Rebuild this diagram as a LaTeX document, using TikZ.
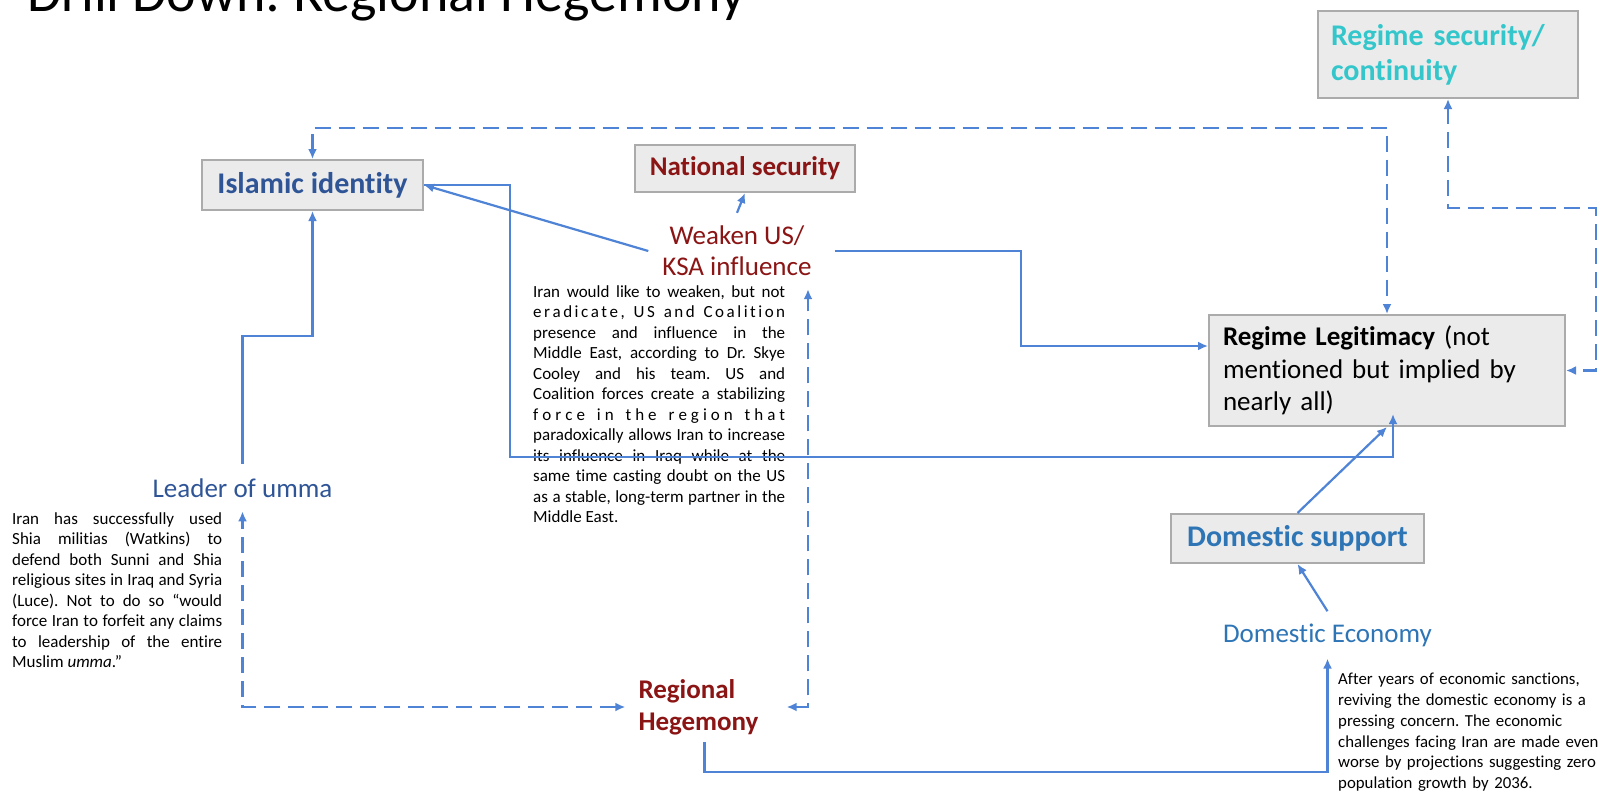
\documentclass[tikz,border=0pt]{standalone}
\usepackage{fontspec}
\setmainfont{Carlito}[Ligatures={NoCommon, NoContextual}, RawFeature={-liga;-clig;-calt}]
\usetikzlibrary{positioning, calc, arrows.meta}
\definecolor{xred}{HTML}{8B1414}
\definecolor{xblue}{HTML}{2F5597}
\definecolor{xsteel}{HTML}{2E75B6}
\definecolor{xteal}{HTML}{33C7CC}
\definecolor{xline}{HTML}{4F83D6}
\definecolor{xfill}{HTML}{EBEBEB}
\definecolor{xgray}{HTML}{ABABAB}
\tikzset{
	arrow/.style={line width=2.2pt, xline, -{Latex[length=10pt, width=9pt]}},
	dasharrow/.style={arrow, {Latex[length=10pt, width=9pt]}-{Latex[length=10pt, width=9pt]}, dash pattern=on 16pt off 8pt},
	box/.style={draw=xgray, fill=xfill, line width=2pt},
	big/.style={font=\fontsize{27}{32.5}\selectfont},
	bigbold/.style={font=\fontsize{30}{35}\selectfont\bfseries},
	para/.style={font=\fontsize{17}{20.5}\selectfont, inner sep=0pt, anchor=north west},
}
\frenchspacing
\newcommand{\gap}{\hfil\ \hfil}

\begin{document}
\begin{tikzpicture}[x=1pt, y=-1pt]
			\fill[white] (0,0) rectangle (1598,793);
			\useasboundingbox (0,0) rectangle (1598,793);

			\node[font=\fontsize{56}{67}\selectfont, anchor=base west, inner sep=0pt] (title) at (27,11) {Drill Down: Regional Hegemony};

			\node[box, bigbold, text=xblue, minimum width=221pt, minimum height=50pt] (islamic) at (312.5,185) {Islamic identity};
			\node[box, font=\fontsize{27}{32}\selectfont\bfseries, text=xred, minimum width=220pt, minimum height=47pt] (natsec) at (745,168.5) {National security};
			\node[box, bigbold, text=xteal, align=left, text width=234pt, inner xsep=13pt, minimum height=87pt] (regsec) at (1448,54.5) {Regime security/\\continuity};
			\node[box, big, align=left, text width=328pt, inner xsep=14pt, minimum height=111pt] (regleg) at (1387,370.5) {\textbf{Regime Legitimacy} (not\\mentioned but implied by\\nearly all)};
			\node[box, bigbold, text=xsteel, minimum width=253pt, minimum height=49pt] (domsup) at (1297.5,538.5) {Domestic support};

			\node[font=\fontsize{27}{31}\selectfont, text=xred, align=center, inner xsep=14pt, inner ysep=13pt] (weaken) at (737,251) {Weaken US/\\KSA influence};
			\node[big, text=xblue, inner ysep=14pt, anchor=base] (leader) at (242.5,497) {Leader of umma};
			\node[font=\fontsize{27}{32}\selectfont\bfseries, text=xred, align=left, inner xsep=13pt, inner ysep=7pt] (hegemony) at (698.5,707) {Regional\\Hegemony};
			\node[big, text=xsteel, inner ysep=12pt, anchor=base] (domecon) at (1327.5,642) {Domestic Economy};

			\node[para, text width=252pt, align=justify] (iranus) at (533,285) {Iran would like to weaken, but not\linebreak e\hfil r\hfil a\hfil d\hfil i\hfil c\hfil a\hfil t\hfil e\hfil ,\gap U\hfil S\gap a\hfil n\hfil d\gap C\hfil o\hfil a\hfil l\hfil i\hfil t\hfil i\hfil o\hfil n\linebreak presence and influence in the\linebreak Middle East, according to Dr. Skye\linebreak Cooley and his team. US and\linebreak Coalition forces create a stabilizing\linebreak f\hfil o\hfil r\hfil c\hfil e\gap i\hfil n\gap t\hfil h\hfil e\gap r\hfil e\hfil g\hfil i\hfil o\hfil n\gap t\hfil h\hfil a\hfil t\linebreak paradoxically allows Iran to increase\linebreak its influence in Iraq while at the\linebreak same time casting doubt on the US\linebreak as a stable, long-term partner in the\linebreak Middle East.};
			\node[para, text width=210pt, align=justify] (militias) at (12,512) {Iran has successfully used\linebreak Shia militias (Watkins) to\linebreak defend both Sunni and Shia\linebreak religious sites in Iraq and Syria\linebreak (Luce). Not to do so “would\linebreak force Iran to forfeit any claims\linebreak to leadership of the entire\linebreak Muslim \emph{umma}.”};
			\node[para, font=\fontsize{16.8}{20.8}\selectfont, text width=270pt, align=left] (sanctions) at (1338,673) {After years of economic sanctions,\\reviving the domestic economy is a\\pressing concern. The economic\\challenges facing Iran are made even\\worse by projections suggesting zero\\population growth by 2036.};

			\draw[dasharrow] (islamic.north) -- ++(0,-31) -| (regleg.north);
			\draw[dasharrow] (regsec.south) -- ++(0,109) -| ([xshift=30pt]regleg.east) -- (regleg.east);
			\draw[arrow] (weaken.north) -- (natsec.south);
			\draw[arrow] (weaken.west) -- (islamic.east);
			\draw[arrow] ([xshift=9pt]weaken.east) -- ++(186,0) |- ([yshift=24.5pt]regleg.west);
			\draw[arrow] (islamic.east) -- ++(86,0) -- ++(0,272) -| ([xshift=6pt, yshift=13pt]regleg.south);
			\draw[arrow] (domsup.north) -- (regleg.south);
			\draw[arrow] (domecon.north) -- (domsup.south);
			\draw[arrow] ([xshift=6pt]hegemony.south) -- ++(0,30) -| (domecon.south);
			\draw[dasharrow] (hegemony.west) -| (leader.south);
			\draw[dasharrow] ([xshift=15pt]hegemony.east) -| ([xshift=71pt]weaken.south);
			\draw[arrow] (leader.north) -- ++(0,-128) -| (islamic.south);
		\end{tikzpicture}
\end{document}
